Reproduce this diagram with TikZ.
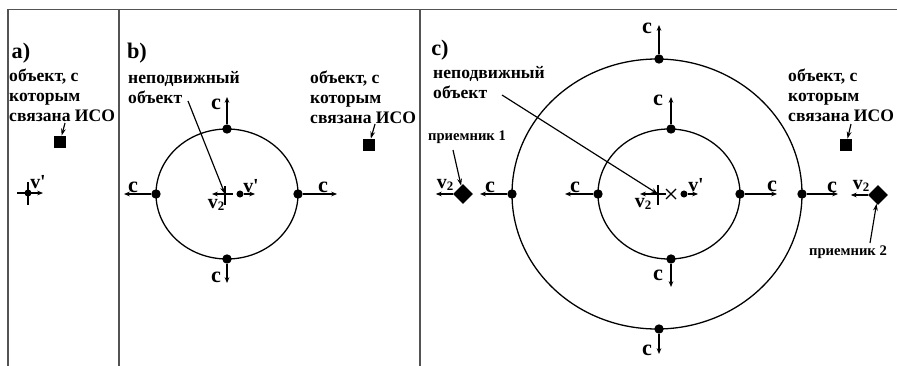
\documentclass[tikz,border=0pt]{standalone}
\usepackage{fontspec}
\setmainfont{Liberation Serif}
\usetikzlibrary{arrows.meta,positioning,shapes.geometric}

\tikzset{
    frame/.style={draw=gray!65!black, line width=1.6pt},
    wave/.style={line width=1.1pt},
    dot/.style={circle, fill, inner sep=0pt, minimum size=8pt},
    iso/.style={rectangle, fill, inner sep=0pt, minimum size=10.5pt},
    rcv/.style={diamond, fill, inner sep=0pt, minimum width=17pt, minimum height=17pt},
    ray/.style={-{Stealth[length=5pt,width=4pt]}, line width=1pt},
    pointer/.style={-{Stealth[length=6pt,width=4pt]}, line width=1pt},
    txt/.style={font=\bfseries\fontsize{15}{17}\selectfont, align=left, inner sep=0pt},
    small/.style={font=\bfseries\fontsize{12.5}{13}\selectfont, inner sep=0pt},
    panel/.style={font=\bfseries\fontsize{19}{19}\selectfont, inner sep=0pt},
    clbl/.style={font=\bfseries\fontsize{19}{19}\selectfont, inner sep=0pt},
    vlbl/.style={font=\bfseries\fontsize{17}{17}\selectfont, inner sep=0pt}
}
\newcommand{\vtwo}{v{\fontsize{11}{11}\selectfont\raisebox{-1pt}{2}}}
\newcommand{\vprime}{v\textquotesingle}

\begin{document}
\begin{tikzpicture}[x=0.03cm, y=-0.03cm]
    \useasboundingbox (0,0) rectangle (897,366);

    % frames
    \draw[frame] (8,366) -- (8,9.5) -- (897,9.5);
    \draw[frame] (119,9.5) -- (119,366);
    \draw[frame] (420,9.5) -- (420,366);

    % ---- a) ----
    \node[panel] (titleA) at (21,53) {a)};
    \node[txt, anchor=north west] (isoTxtA) at (9,69) {объект, с\\которым\\связана ИСО};
    \node[iso] (isoA) at (60,142) {};
    \coordinate (pA) at (65,123);
    \draw[pointer] (pA) -- (isoA);
    \node[dot, minimum size=6pt] (objA) at (28,193) {};
    \draw[line width=1pt] (objA) +(-11,0) -- +(8,0) +(0,-11) -- +(0,12);
    \draw[ray] (objA) -- ++(15,0);
    \node[vlbl] (vA) at (38,182) {\vprime};

    % ---- b) ----
    \node[panel] (titleB) at (137,53) {b)};
    \node[txt, anchor=north west] (fixTxtB) at (128,71) {неподвижный\\объект};
    \node[txt, anchor=north west] (isoTxtB) at (310,71) {объект, с\\которым\\связана ИСО};
    \node[iso] (isoB) at (369,145) {};
    \coordinate (pB) at (375,124);
    \draw[pointer] (pB) -- (isoB);

    \draw[wave] (227,194) ellipse [x radius=71, y radius=65];
    \node[dot] (topB) at (227,129) {};
    \node[dot] (botB) at (227,259) {};
    \node[dot] (leftB) at (156,194) {};
    \node[dot] (rightB) at (298,194) {};
    \draw[ray] (topB) -- ++(0,-32);
    \draw[ray] (botB) -- ++(0,24);
    \draw[ray] (leftB) -- ++(-32,0);
    \draw[ray] (rightB) -- ++(39,0);
    \node[clbl] at (216,104) {c};
    \node[clbl] at (216,277) {c};
    \node[clbl] at (133,187) {c};
    \node[clbl] at (323,187) {c};

    \coordinate (fixB) at (225,194);
    \draw[line width=1pt] (fixB) +(-9,0) -- +(8,0) +(0,-8) -- +(0,11);
    \node[dot, minimum size=6pt] (objB) at (240,194) {};
    \draw[ray] (objB) -- ++(15,0);
    \draw[ray] (fixB) -- ++(-13,0);
    \node[vlbl] at (251,186) {\vprime};
    \node[vlbl] at (216,205) {\vtwo};
    \coordinate (pFixB) at (188,101);
    \draw[pointer] (pFixB) -- (fixB);

    % ---- c) ----
    \node[panel] (titleC) at (440,50) {c)};
    \node[txt, anchor=north west] (fixTxtC) at (433,66) {неподвижный\\объект};
    \node[txt, anchor=north west] (isoTxtC) at (788,69) {объект, с\\которым\\связана ИСО};
    \node[iso] (isoC) at (846,145) {};
    \coordinate (pC) at (851,124);
    \draw[pointer] (pC) -- (isoC);

    % outer front
    \draw[wave] (657,194) ellipse [x radius=145, y radius=135];
    \node[dot] (topO) at (659,59) {};
    \node[dot] (botO) at (659,329) {};
    \node[dot] (leftO) at (512,194) {};
    \node[dot] (rightO) at (802,194) {};
    \draw[ray] (topO) -- ++(0,-34);
    \draw[ray] (botO) -- ++(0,25);
    \draw[ray] (leftO) -- ++(-32,0);
    \draw[ray] (rightO) -- ++(36,0);
    \node[clbl] at (647,28) {c};
    \node[clbl] at (647,350) {c};
    \node[clbl] at (490,187) {c};
    \node[clbl] at (832,187) {c};

    % inner front
    \draw[wave] (669,194) ellipse [x radius=71, y radius=65];
    \node[dot] (topI) at (671,129) {};
    \node[dot] (botI) at (671,259) {};
    \node[dot] (leftI) at (598,194) {};
    \node[dot] (rightI) at (740,194) {};
    \draw[ray] (topI) -- ++(0,-32);
    \draw[ray] (botI) -- ++(0,28);
    \draw[ray] (leftI) -- ++(-33,0);
    \draw[ray] (rightI) -- ++(37,0);
    \node[clbl] at (658,100) {c};
    \node[clbl] at (658,275) {c};
    \node[clbl] at (575,187) {c};
    \node[clbl] at (772,186) {c};

    \coordinate (fixC) at (658,194);
    \draw[line width=1pt] (fixC) +(-9,0) -- +(8,0) +(0,-9) -- +(0,11);
    \draw[line width=1pt] (671,194) +(-5,-5) -- +(5,5) +(-5,5) -- +(5,-5);
    \node[dot, minimum size=6pt] (objC) at (684,194) {};
    \draw[ray] (objC) -- ++(14,0);
    \draw[ray] (fixC) -- ++(-18,0);
    \node[vlbl] at (696,185) {\vprime};
    \node[vlbl] at (643,204) {\vtwo};
    \coordinate (pFixC) at (502,95);
    \draw[pointer] (pFixC) -- (fixC);

    % receivers
    \node[rcv] (rcvA) at (463,194) {};
    \draw[ray] (rcvA.west) -- ++(-17,0);
    \node[vlbl] at (445,185) {\vtwo};
    \node[small] (rcvTxtA) at (467,137) {приемник 1};
    \coordinate (pR1) at (453,150);
    \draw[pointer] (pR1) -- (rcvA);

    \node[rcv] (rcvB) at (878,195) {};
    \draw[ray] (rcvB.west) -- ++(-17,0);
    \node[vlbl] at (861,186) {\vtwo};
    \node[small] (rcvTxtB) at (848,252) {приемник 2};
    \coordinate (pR2) at (870,243);
    \draw[pointer] (pR2) -- (rcvB);
\end{tikzpicture}
\end{document}
